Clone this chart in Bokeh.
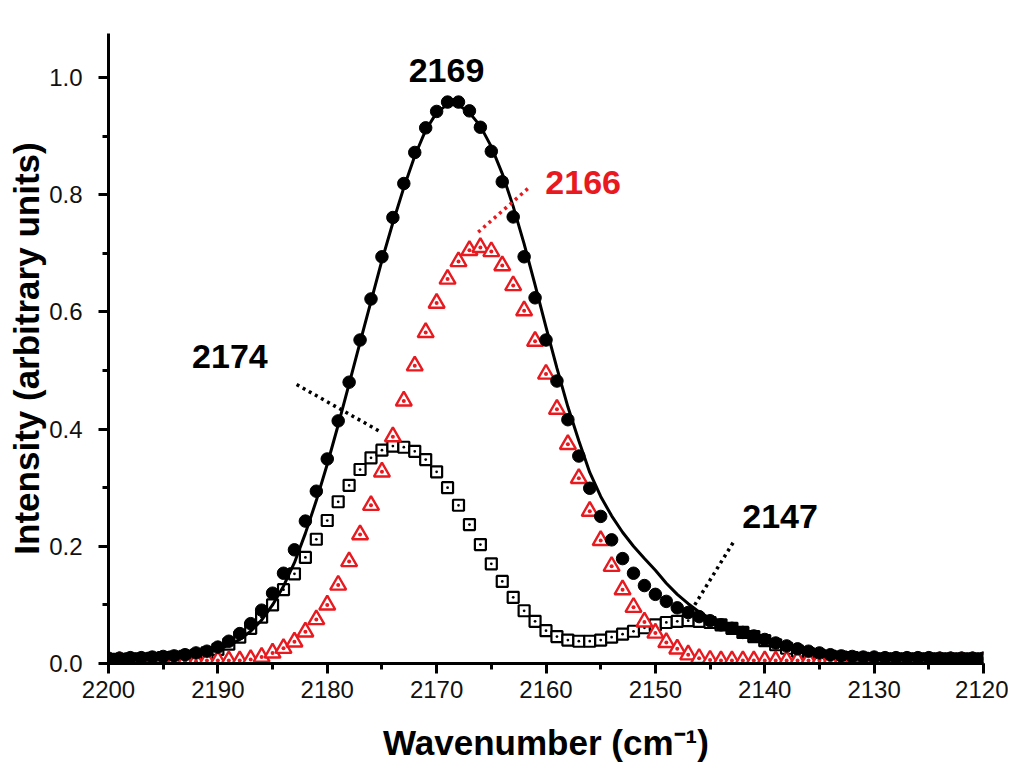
from bokeh.plotting import figure
from bokeh.models import Range1d, SingleIntervalTicker, PrintfTickFormatter, ColumnDataSource
from bokeh.core.properties import value
from bokeh.embed import file_html
from bokeh.resources import INLINE

# ---------------- data ----------------
wavenumber = list(range(2200, 2119, -1))  # 2200 ... 2120, step 1 cm-1

# measured total band (filled circles)
total = [0.009, 0.009, 0.010, 0.010, 0.011, 0.012, 0.013, 0.015, 0.018, 0.021,
         0.028, 0.038, 0.051, 0.068, 0.091, 0.120, 0.154, 0.194, 0.243, 0.294,
         0.349, 0.414, 0.480, 0.552, 0.622, 0.694, 0.761, 0.819, 0.872, 0.914,
         0.942, 0.958, 0.958, 0.943, 0.915, 0.874, 0.822, 0.762, 0.694, 0.624,
         0.552, 0.482, 0.416, 0.354, 0.299, 0.251, 0.211, 0.179, 0.154, 0.133,
         0.118, 0.106, 0.095, 0.087, 0.080, 0.073, 0.066, 0.060, 0.053, 0.047,
         0.041, 0.035, 0.030, 0.025, 0.021, 0.018, 0.015, 0.013, 0.012, 0.011,
         0.011, 0.010, 0.010, 0.010, 0.010, 0.010, 0.009, 0.009, 0.009, 0.009,
         0.009]

# component 2166 (open red triangles)
comp_2166 = [0.004, 0.004, 0.004, 0.004, 0.004, 0.004, 0.004, 0.004, 0.004, 0.005,
             0.005, 0.005, 0.005, 0.007, 0.011, 0.018, 0.026, 0.037, 0.054, 0.075,
             0.100, 0.134, 0.174, 0.220, 0.270, 0.327, 0.387, 0.448, 0.508, 0.565,
             0.615, 0.656, 0.686, 0.705, 0.710, 0.703, 0.679, 0.645, 0.602, 0.550,
             0.494, 0.434, 0.374, 0.316, 0.260, 0.210, 0.166, 0.126, 0.096, 0.071,
             0.052, 0.036, 0.025, 0.015, 0.009, 0.006, 0.005, 0.005, 0.005, 0.005,
             0.005, 0.005, 0.005, 0.005, 0.005, 0.005, 0.004, 0.004, 0.004, 0.004,
             0.004, 0.004, 0.004, 0.004, 0.004, 0.004, 0.004, 0.004, 0.004, 0.004,
             0.004]

# components 2174 + 2147 (open black squares)
comp_2174_2147 = [0.007, 0.007, 0.008, 0.008, 0.009, 0.010, 0.011, 0.012, 0.014, 0.018,
                  0.024, 0.033, 0.045, 0.060, 0.079, 0.100, 0.126, 0.153, 0.181, 0.212,
                  0.244, 0.276, 0.304, 0.331, 0.351, 0.364, 0.371, 0.369, 0.362, 0.348,
                  0.327, 0.300, 0.270, 0.237, 0.203, 0.170, 0.140, 0.113, 0.090, 0.072,
                  0.056, 0.046, 0.040, 0.038, 0.038, 0.040, 0.045, 0.050, 0.055, 0.061,
                  0.066, 0.070, 0.072, 0.073, 0.072, 0.070, 0.066, 0.060, 0.053, 0.046,
                  0.039, 0.032, 0.026, 0.021, 0.017, 0.014, 0.012, 0.011, 0.010, 0.009,
                  0.008, 0.008, 0.008, 0.008, 0.008, 0.008, 0.008, 0.008, 0.008, 0.008,
                  0.008]

# fitted envelope (solid black line)
fit = [0.008, 0.008, 0.009, 0.009, 0.010, 0.011, 0.012, 0.014, 0.016, 0.019,
       0.024, 0.031, 0.041, 0.055, 0.074, 0.100, 0.132, 0.172, 0.222, 0.278,
       0.340, 0.407, 0.477, 0.548, 0.618, 0.688, 0.752, 0.812, 0.866, 0.910,
       0.940, 0.954, 0.953, 0.940, 0.917, 0.882, 0.836, 0.780, 0.716, 0.646,
       0.574, 0.504, 0.438, 0.380, 0.326, 0.285, 0.252, 0.224, 0.200, 0.179,
       0.159, 0.137, 0.118, 0.102, 0.088, 0.077, 0.068, 0.060, 0.053, 0.047,
       0.041, 0.035, 0.030, 0.025, 0.021, 0.018, 0.015, 0.013, 0.012, 0.011,
       0.011, 0.010, 0.010, 0.010, 0.010, 0.010, 0.009, 0.009, 0.009, 0.009,
       0.009]

# peak labels
label_text = ["2169", "2166", "2174", "2147"]
label_x = [2169.1, 2156.6, 2188.9, 2138.6]
label_y = [1.012, 0.820, 0.523, 0.251]
label_color = ["black", "#e8191f", "black", "black"]

# dotted leader lines (start, end)
leader_x = [[2166.2, 2161.5], [2182.8, 2175.0], [2142.9, 2146.4]]
leader_y = [[0.736, 0.813], [0.476, 0.394], [0.206, 0.100]]
leader_color = ["#e8191f", "black", "black"]

x_ticks_interval = 10
y_ticks_interval = 0.2

# ---------------- figure ----------------
FONT = "Liberation Sans"
RED = "#e8191f"

p = figure(width=1008, height=764, output_backend="svg", toolbar_location=None,
           x_range=Range1d(2200, 2120), y_range=Range1d(0, 1.075),
           min_border_left=108, min_border_right=25, min_border_top=33, min_border_bottom=100)
p.outline_line_color = None
p.xgrid.visible = False
p.ygrid.visible = False
p.background_fill_color = "white"
p.border_fill_color = "white"

src = ColumnDataSource(dict(x=wavenumber, total=total, c66=comp_2166, c74=comp_2174_2147, fit=fit))

p.scatter("x", "c74", source=src, marker="square_dot", size=11, fill_color="white",
          line_color="black", line_width=2.2)
p.scatter("x", "c66", source=src, marker="triangle_dot", size=16, fill_color="white",
          line_color=RED, line_width=2.4)
p.scatter("x", "total", source=src, marker="circle", size=12.5, fill_color="black",
          line_color="black")
p.line("x", "fit", source=src, line_color="black", line_width=3)

for xs, ys, c in zip(leader_x, leader_y, leader_color):
    p.line(xs, ys, line_color=c, line_width=3.5, line_dash="3 4")

p.text(x=label_x, y=label_y, text=label_text, text_color=label_color,
       text_font=value(FONT), text_font_style="bold", text_font_size="34px",
       text_align="center", text_baseline="middle")

for ax in (p.xaxis[0], p.yaxis[0]):
    ax.axis_line_width = 3
    ax.axis_line_color = "black"
    ax.major_tick_line_width = 3
    ax.minor_tick_line_width = 3
    ax.major_tick_in = 0
    ax.major_tick_out = 10
    ax.minor_tick_in = 0
    ax.minor_tick_out = 6
    ax.major_label_text_font = FONT
    ax.major_label_text_font_size = "24px"
    ax.major_label_text_color = "#111111"
    ax.axis_label_text_font = FONT
    ax.axis_label_text_font_style = "bold"
    ax.axis_label_text_font_size = "35px"
    ax.axis_label_text_color = "black"

p.xaxis.ticker = SingleIntervalTicker(interval=x_ticks_interval, num_minor_ticks=2)
p.yaxis.ticker = SingleIntervalTicker(interval=y_ticks_interval, num_minor_ticks=2)
p.xaxis.formatter = PrintfTickFormatter(format="%d")
p.yaxis.formatter = PrintfTickFormatter(format="%.1f")
p.xaxis.axis_label = "Wavenumber (cm\u207b\u00b9)"
p.yaxis.axis_label = "Intensity (arbitrary units)"
p.xaxis.major_label_standoff = 7
p.yaxis.major_label_standoff = 16
p.xaxis.axis_label_standoff = 22
p.yaxis.axis_label_standoff = 0

open("out.html", "w").write(file_html(p, INLINE))
